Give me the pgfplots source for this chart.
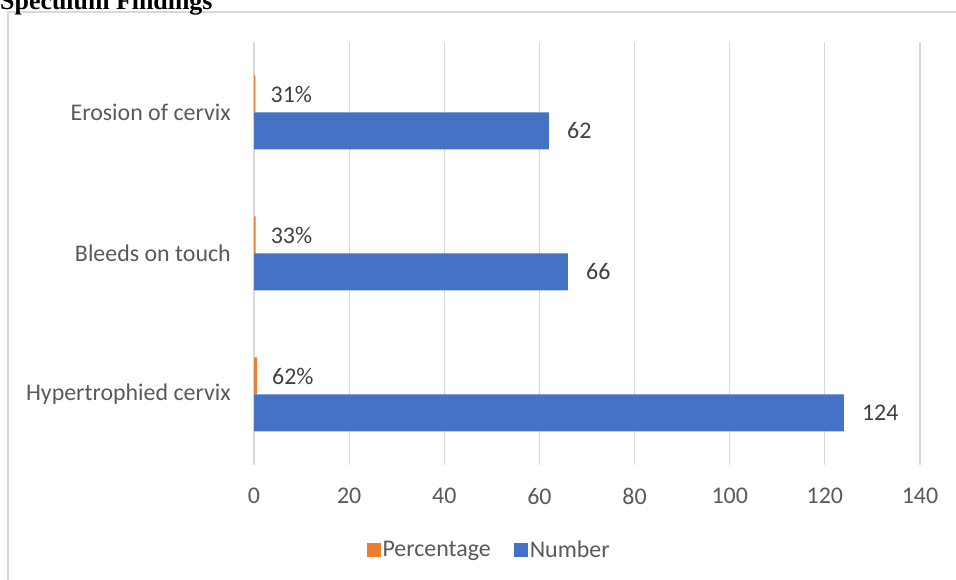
\documentclass[border=0pt]{standalone}
\usepackage{fontspec}
\setmainfont{Carlito}
\newfontfamily\titlefont{Liberation Serif}
\usepackage{pgfplots}
\pgfplotsset{compat=1.18}
\definecolor{barblue}{HTML}{4472C4}
\definecolor{barorange}{HTML}{ED7D31}
\definecolor{labelgray}{HTML}{595959}
\definecolor{valuegray}{HTML}{404040}
\definecolor{gridgray}{HTML}{D9D9D9}

\begin{document}
\begin{tikzpicture}[x=1bp,y=1bp]
\clip (0,0) rectangle (956,580);
% chart frame
\draw[gridgray, line width=1.2bp] (8,-2) -- (8,568) -- (960,568);
% title
\node[anchor=base west, inner sep=0pt, font=\titlefont\bfseries\fontsize{26}{30}\selectfont] at (0,570) {Speculum Findings};

\begin{axis}[
  at={(254bp,115bp)}, anchor=south west,
  scale only axis, width=666bp, height=423bp,
  xmin=0, xmax=140, ymin=-0.5, ymax=2.5,
  xtick={0,20,...,140}, ytick={0,1,2},
  yticklabels={Hypertrophied cervix, Bleeds on touch, Erosion of cervix},
  xmajorgrids, major grid style={gridgray, line width=1.2bp},
  axis line style={draw=none}, major tick length=0pt,
  /pgf/number format/assume math mode=true,
  font=\fontsize{24}{28}\selectfont,
  tick label style={text=labelgray, inner sep=0pt},
  xticklabel style={anchor=north, yshift=-23bp},
  yticklabel style={anchor=east, xshift=-23bp},
  xbar, bar width=37bp,
  nodes near coords,
  every node near coord/.append style={anchor=west, inner sep=0pt, text=valuegray, font=\fontsize{24}{28}\selectfont},
  legend columns=2,
  legend style={at={(0.353,-0.201)}, anchor=center, draw=none, fill=none,
    text=labelgray, font=\fontsize{24}{28}\selectfont,
    /tikz/every even column/.append style={column sep=22bp},
    nodes={inner sep=1.5bp}},
  legend image code/.code={\fill[#1] (0bp,-7bp) rectangle (14bp,7bp);},
]
\addplot[fill=barorange, draw=none, bar shift=18.5bp,
  point meta=explicit symbolic,
  every node near coord/.append style={xshift=15bp}]
  coordinates {(0.62,0) [62\%] (0.33,1) [33\%] (0.31,2) [31\%]};
\addlegendentry{Percentage}
\addplot[fill=barblue, draw=none, bar shift=-18.5bp,
  every node near coord/.append style={xshift=18bp}]
  coordinates {(124,0) (66,1) (62,2)};
\addlegendentry{Number}
\end{axis}
\end{tikzpicture}
\end{document}
